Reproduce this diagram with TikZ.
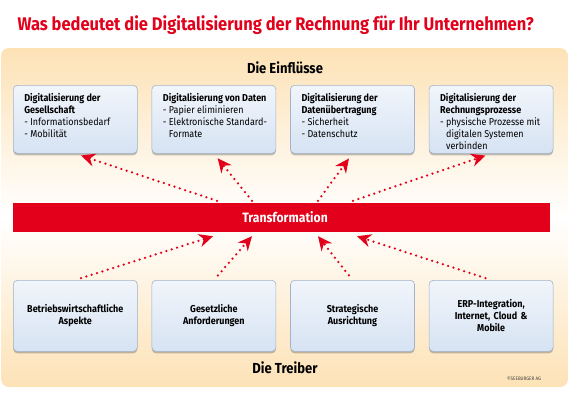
\documentclass[tikz,border=0pt]{standalone}
\usepackage{fontspec}
\setmainfont{Fira Sans}[UprightFeatures={FakeStretch=0.9}, BoldFeatures={FakeStretch=0.9}]
\usetikzlibrary{positioning,arrows.meta,shadows}
\definecolor{seered}{HTML}{E2001A}
\definecolor{boxline}{HTML}{A3B4CA}
\definecolor{boxtop}{HTML}{F1F5FB}
\definecolor{boxbottom}{HTML}{D6E3F3}
\definecolor{panel}{HTML}{FDE2B6}
\newcommand{\inhalt}[1]{\parbox[t][52pt][t]{122pt}{\raggedright\leftskip=10pt #1}}
\tikzset{
  box/.style={rounded corners=4pt, draw=boxline, line width=0.6pt,
    top color=boxtop, bottom color=boxbottom,
    drop shadow={shadow xshift=0pt, shadow yshift=-2pt, opacity=0.35, fill=black!70}},
  einfluss/.style={box, anchor=north west, inner xsep=1pt, inner ysep=7pt,
    minimum width=124pt, minimum height=68pt},
  treiber/.style={box, anchor=north west, minimum width=124pt, minimum height=71pt,
    text width=116pt, align=center, font=\bfseries\fontsize{10}{12}\selectfont},
  balken/.style={fill=seered, minimum width=537pt, minimum height=29pt,
    text=white, font=\bfseries\fontsize{13.5}{15}\selectfont},
  pfeil/.style={seered, line width=2.5pt, line cap=round,
    dash pattern=on 0pt off 5.6pt, -{Stealth[length=14pt, width=13pt, inset=4.5pt]}},
}
\begin{document}
\begin{tikzpicture}[x=1pt, y=1pt, node distance=14pt,
    every node/.style={font=\fontsize{10}{12}\selectfont}]
  \useasboundingbox (0,0) rectangle (569,400);
  % background
  \shade[rounded corners=8pt, top color=panel, bottom color=panel, middle color=white]
    (1,13) rectangle (568,352);
  \node[anchor=base west, text=seered, font=\bfseries\fontsize{18.3}{22}\selectfont]
    (titel) at (14,370) {Was bedeutet die Digitalisierung der Rechnung für Ihr Unternehmen?};
  \node[font=\bfseries\fontsize{14.5}{16}\selectfont] (einfluesse) at (285,332) {Die Einflüsse};
  % influences
  \node[einfluss] (gesellschaft) at (13,315)
    {\inhalt{\textbf{Digitalisierung der\\Gesellschaft}\\- Informationsbedarf\\- Mobilität}};
  \node[einfluss, right=of gesellschaft] (daten)
    {\inhalt{\textbf{Digitalisierung von Daten}\\- Papier eliminieren\\- Elektronische Standard-\\\hphantom{- }Formate}};
  \node[einfluss, right=of daten] (uebertragung)
    {\inhalt{\textbf{Digitalisierung der\\Datenübertragung}\\- Sicherheit\\- Datenschutz}};
  \node[einfluss, right=of uebertragung] (prozesse)
    {\inhalt{\textbf{Digitalisierung der\\Rechnungsprozesse}\\- physische Prozesse mit\\\hphantom{- }digitalen Systemen\\\hphantom{- }verbinden}};
  % transformation
  \node[balken] (trans) at (281.5,182.5) {\hspace{7pt}Transformation};
  % drivers
  \node[treiber] (betrieb) at (13,120) {Betriebswirtschaftliche\\Aspekte};
  \node[treiber, right=of betrieb] (gesetz) {Gesetzliche\\Anforderungen};
  \node[treiber, right=of gesetz] (strategie) {Strategische\\Ausrichtung};
  \node[treiber, right=of strategie] (erp) {ERP-Integration,\\Internet, Cloud \&\\Mobile};
  \node[font=\bfseries\fontsize{14.5}{16}\selectfont] (treiberlabel) at (285,32) {Die Treiber};
  \node[text=black!75, font=\fontsize{5}{6}\selectfont] (copy) at (524,21) {©SEEBURGER AG};
  % arrow ends on the bar
  \coordinate (o1) at ([xshift=-64.5pt, yshift=2pt]trans.north);
  \coordinate (o2) at ([xshift=-29.5pt, yshift=2pt]trans.north);
  \coordinate (o3) at ([xshift=36.5pt, yshift=2pt]trans.north);
  \coordinate (o4) at ([xshift=71.5pt, yshift=2pt]trans.north);
  \coordinate (u1) at ([xshift=-68.5pt, yshift=-4pt]trans.south);
  \coordinate (u2) at ([xshift=-29.5pt, yshift=-4pt]trans.south);
  \coordinate (u3) at ([xshift=36.5pt, yshift=-4pt]trans.south);
  \coordinate (u4) at ([xshift=75.5pt, yshift=-4pt]trans.south);
  % draw arrows
  \draw[pfeil, shorten >=6pt] (o1) -- (gesellschaft.south);
  \draw[pfeil, shorten >=6pt] (o2) -- (daten.south);
  \draw[pfeil, shorten >=6pt] (o3) -- (uebertragung.south);
  \draw[pfeil, shorten >=6pt] (o4) -- (prozesse.south);
  \draw[pfeil, shorten <=6pt] (betrieb.north) -- (u1);
  \draw[pfeil, shorten <=6pt] (gesetz.north) -- (u2);
  \draw[pfeil, shorten <=6pt] (strategie.north) -- (u3);
  \draw[pfeil, shorten <=6pt] (erp.north) -- (u4);
\end{tikzpicture}
\end{document}
